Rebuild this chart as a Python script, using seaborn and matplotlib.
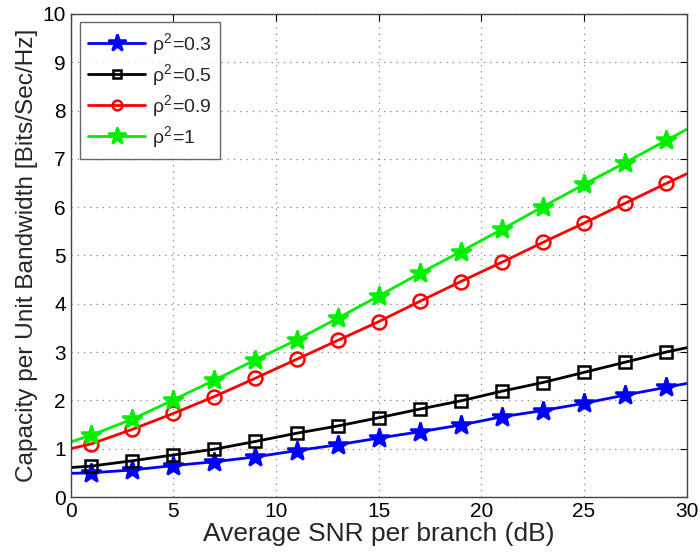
import matplotlib
matplotlib.use("Agg")
import matplotlib.pyplot as plt
import seaborn as sns
import pandas as pd

# === Data ===
snr_db = [0, 1, 3, 5, 7, 9, 11, 13, 15, 17, 19, 21, 23, 25, 27, 29, 30]

cap_rho_03 = [0.49, 0.50, 0.56, 0.65, 0.73, 0.83, 0.96, 1.08, 1.22, 1.35, 1.49, 1.66, 1.79, 1.94, 2.11, 2.27, 2.35]
cap_rho_05 = [0.61, 0.64, 0.75, 0.87, 0.99, 1.15, 1.32, 1.47, 1.64, 1.82, 1.99, 2.19, 2.37, 2.58, 2.79, 3.00, 3.09]
cap_rho_09 = [1.00, 1.10, 1.40, 1.73, 2.08, 2.46, 2.85, 3.24, 3.63, 4.05, 4.46, 4.86, 5.27, 5.67, 6.08, 6.49, 6.69]
cap_rho_1 = [1.14, 1.28, 1.61, 2.01, 2.42, 2.84, 3.25, 3.70, 4.16, 4.63, 5.08, 5.54, 6.01, 6.47, 6.92, 7.38, 7.61]

# label, values, colour, marker, size in plot, size in legend, face colour
series = [
    ("$\\rho^2$=0.3", cap_rho_03, "#0000ff", "*", 15, 13, "#0000ff"),
    ("$\\rho^2$=0.5", cap_rho_05, "#000000", "s", 8, 6, "none"),
    ("$\\rho^2$=0.9", cap_rho_09, "#ff0000", "o", 10, 7, "none"),
    ("$\\rho^2$=1", cap_rho_1, "#00ee00", "*", 15, 13, "#00ee00"),
]

# === Plot ===
sns.set_style("white")
plt.rcParams["font.family"] = ["Liberation Sans", "DejaVu Sans"]
plt.rcParams["mathtext.fontset"] = "custom"
plt.rcParams["mathtext.rm"] = "Liberation Sans"
plt.rcParams["mathtext.it"] = "Liberation Sans"

fig = plt.figure(figsize=(7, 5.55), dpi=100)
ax = fig.add_axes([0.101, 0.1045, 0.880, 0.8705])

for label, vals, color, marker, msize, _, mfc in series:
    df = pd.DataFrame({"snr": snr_db, "cap": vals})
    sns.lineplot(data=df, x="snr", y="cap", ax=ax, color=color, linewidth=2,
                 marker=marker, markersize=msize, markerfacecolor=mfc,
                 markeredgecolor=color, markeredgewidth=1.8,
                 markevery=slice(1, len(snr_db) - 1), label=label)

ax.set_xlim(0, 30)
ax.set_ylim(0, 10)
ax.set_xticks(range(0, 31, 5))
ax.set_yticks(range(0, 11))
ax.grid(True, linestyle=(0, (1, 4)), color="#888888", linewidth=0.9)
ax.tick_params(direction="in", top=True, right=True, length=5, labelsize=15, colors="black")
for spine in ax.spines.values():
    spine.set_color("#444444")
    spine.set_linewidth(1.0)

ax.set_xlabel("Average SNR per branch (dB)", fontsize=19, labelpad=1)
ax.set_ylabel("Capacity per Unit Bandwidth [Bits/Sec/Hz]", fontsize=17.6, labelpad=3)

leg = ax.legend(loc="upper left", fontsize=14, frameon=True, fancybox=False,
                edgecolor="#444444", handlelength=2.9, handletextpad=0.35,
                borderpad=0.45, labelspacing=0.27, borderaxespad=0,
                bbox_to_anchor=(0.0146, 0.983))
leg.get_frame().set_linewidth(1.0)
for handle, (_, _, _, _, _, lsize, _) in zip(leg.legend_handles, series):
    handle.set_markersize(lsize)

plt.savefig("out.png", dpi=100)
plt.close()
